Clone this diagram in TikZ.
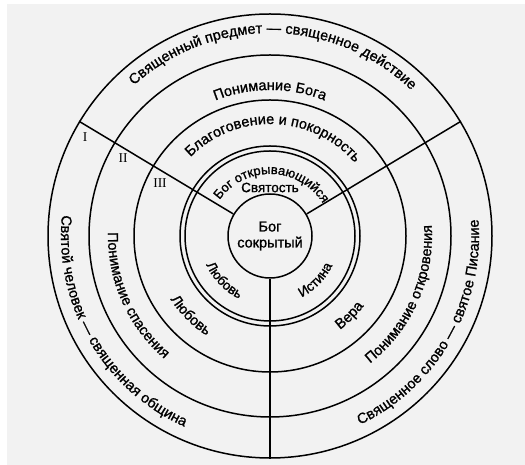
\documentclass[tikz,border=0pt]{standalone}
\usepackage{fontspec}
\setmainfont{Liberation Sans}[FakeBold=1.2]
\newfontfamily\numfont{Liberation Serif}
\usetikzlibrary{decorations.text,calc}
\definecolor{bg}{HTML}{F2F2F2}
\newcommand\arcfont{\fontsize{14.5}{17}\selectfont}
\newcommand\smallarcfont{\fontsize{13.5}{16}\selectfont}
\newcommand\innerarcfont{\fontsize{13}{15}\selectfont}
\tikzset{
  ring/.style={draw, circle, line width=1.5pt, inner sep=0pt, minimum size=#1},
  spoke/.style={line width=1.5pt},
  arctext/.style={decorate, decoration={text along path, text align=center, text={#1}}},
  plain/.style={font=\smallarcfont, inner sep=0pt},
  numeral/.style={font=\numfont\fontsize{13.5}{16}\selectfont, inner sep=0pt}
}
\begin{document}
\begin{tikzpicture}[x=1pt,y=1pt]
\useasboundingbox (0,0) rectangle (525,465);
\fill[bg] (7,0) rectangle (525,461);
\coordinate (C) at (270,229);
% circles
\node[ring=444] (outer) at (C) {};
\node[ring=362] (r2) at (C) {};
\node[ring=272] (r3) at (C) {};
\node[ring=180] (r4a) at (C) {};
\node[ring=170] (r4b) at (C) {};
\node[ring=84, align=center, font=\arcfont] (core) at (C) {Бог\\[-1pt]сокрытый};
% spokes
\draw[spoke] (core.149) -- (outer.149);
\draw[spoke] (core.31) -- (outer.31);
\draw[spoke] (core.270) -- (outer.270);
% outer ring
\path[arctext={|\arcfont|Священный предмет — священное действие}]
  ($(C)+(139:203)$) arc[start angle=139, end angle=39, radius=203];
\path[arctext={|\arcfont|Святой человек — священная община}]
  ($(C)+(165:209)$) arc[start angle=165, end angle=255, radius=209];
\path[arctext={|\arcfont|Священное слово — святое Писание}]
  ($(C)+(285:209)$) arc[start angle=285, end angle=375, radius=209];
% ring II
\path[arctext={|\arcfont|Понимание Бога}]
  ($(C)+(120:146)$) arc[start angle=120, end angle=60, radius=146];
\path[arctext={|\arcfont|Понимание спасения}]
  ($(C)+(169:162)$) arc[start angle=169, end angle=239, radius=162];
\path[arctext={|\arcfont|Понимание откровения}]
  ($(C)+(301:162)$) arc[start angle=301, end angle=371, radius=162];
% ring III
\path[arctext={|\arcfont|Благоговение и покорность}]
  ($(C)+(138:112)$) arc[start angle=138, end angle=38, radius=112];
\path[arctext={|\arcfont|Любовь}]
  ($(C)+(200:118)$) arc[start angle=200, end angle=250, radius=118];
\path[arctext={|\arcfont|Вера}]
  ($(C)+(290:117)$) arc[start angle=290, end angle=340, radius=117];
% inner ring
\path[arctext={|\innerarcfont|Бог открывающийся}]
  ($(C)+(172:62)$) arc[start angle=172, end angle=4, radius=62];
\path[arctext={|\smallarcfont|Любовь}]
  ($(C)+(192:70)$) arc[start angle=192, end angle=256, radius=70];
\path[arctext={|\smallarcfont|Истина}]
  ($(C)+(284:69)$) arc[start angle=284, end angle=348, radius=69];
\node[plain] (holy) at (270,277.5) {Святость};
% numerals
\node[numeral] (n1) at (85,328) {I};
\node[numeral] (n2) at (123,307) {II};
\node[numeral] (n3) at (160,282) {III};
\end{tikzpicture}
\end{document}
